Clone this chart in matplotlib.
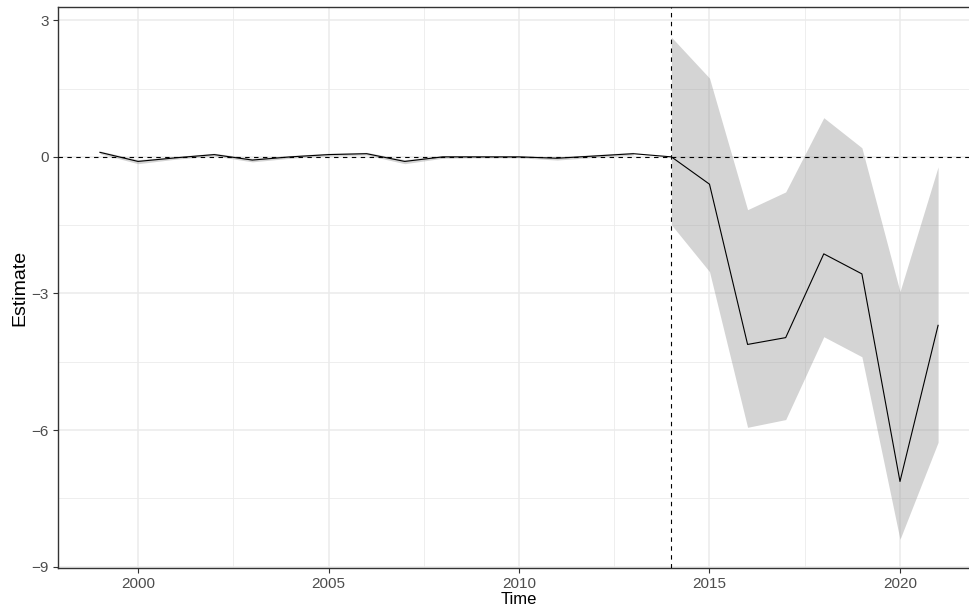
import matplotlib
matplotlib.use("Agg")
import matplotlib.pyplot as plt
from matplotlib.ticker import MultipleLocator

plt.rcParams["font.family"] = ["Liberation Sans", "DejaVu Sans"]

# event-study estimates
years = [1999, 2000, 2001, 2002, 2003, 2004, 2005, 2006, 2007, 2008, 2009,
         2010, 2011, 2012, 2013, 2014, 2015, 2016, 2017, 2018, 2019, 2020, 2021]
estimate = [0.10, -0.10, -0.02, 0.05, -0.07, 0.00, 0.05, 0.07, -0.10, 0.00, 0.00,
            0.00, -0.03, 0.02, 0.07, 0.00, -0.60, -4.12, -3.97, -2.13, -2.57, -7.13, -3.70]
upper = [0.13, -0.06, 0.01, 0.08, -0.03, 0.03, 0.08, 0.10, -0.06, 0.03, 0.02,
         0.02, 0.00, 0.05, 0.10, 2.63, 1.73, -1.16, -0.77, 0.86, 0.20, -2.96, -0.22]
lower = [0.07, -0.15, -0.05, 0.02, -0.11, -0.03, 0.02, 0.04, -0.15, -0.03, -0.02,
         -0.02, -0.07, -0.01, 0.04, -1.49, -2.52, -5.94, -5.77, -3.95, -4.39, -8.40, -6.27]
treat_year = 2014

fig = plt.figure(figsize=(9.7, 6.11), dpi=100)
ax = fig.add_axes([0.0598, 0.0704, 0.9505, 0.918])

# pre and post periods have separate ribbons
k = years.index(treat_year)
for sl in (slice(0, k), slice(k, None)):
    ax.fill_between(years[sl], lower[sl], upper[sl], color="#999999", alpha=0.42,
                    linewidth=0, zorder=2)
ax.plot(years, estimate, color="black", lw=0.8, zorder=3)
ax.axhline(0, color="black", lw=0.8, linestyle=(0, (4, 4)), zorder=4)
ax.axvline(treat_year, color="black", lw=0.8, linestyle=(0, (4, 4)), zorder=4)

ax.set_xlim(1997.9, 2022.1)
ax.set_ylim(-9.03, 3.29)
ax.xaxis.set_major_locator(MultipleLocator(5))
ax.xaxis.set_minor_locator(MultipleLocator(2.5))
ax.yaxis.set_major_locator(MultipleLocator(3))
ax.yaxis.set_minor_locator(MultipleLocator(1.5))

ax.grid(which="major", color="#ebebeb", lw=1.1, zorder=0)
ax.grid(which="minor", color="#ebebeb", lw=0.6, zorder=0)
ax.set_axisbelow(True)

for sp in ax.spines.values():
    sp.set_color("#333333")
    sp.set_linewidth(1.0)

ax.tick_params(which="major", length=3.5, color="#333333", labelsize=11,
               labelcolor="#4d4d4d", pad=3)
ax.tick_params(which="minor", length=0)

ax.set_xlabel("Time", fontsize=12, labelpad=1)
ax.set_ylabel("Estimate", fontsize=14, labelpad=2)

fig.savefig("out.png", dpi=100)
